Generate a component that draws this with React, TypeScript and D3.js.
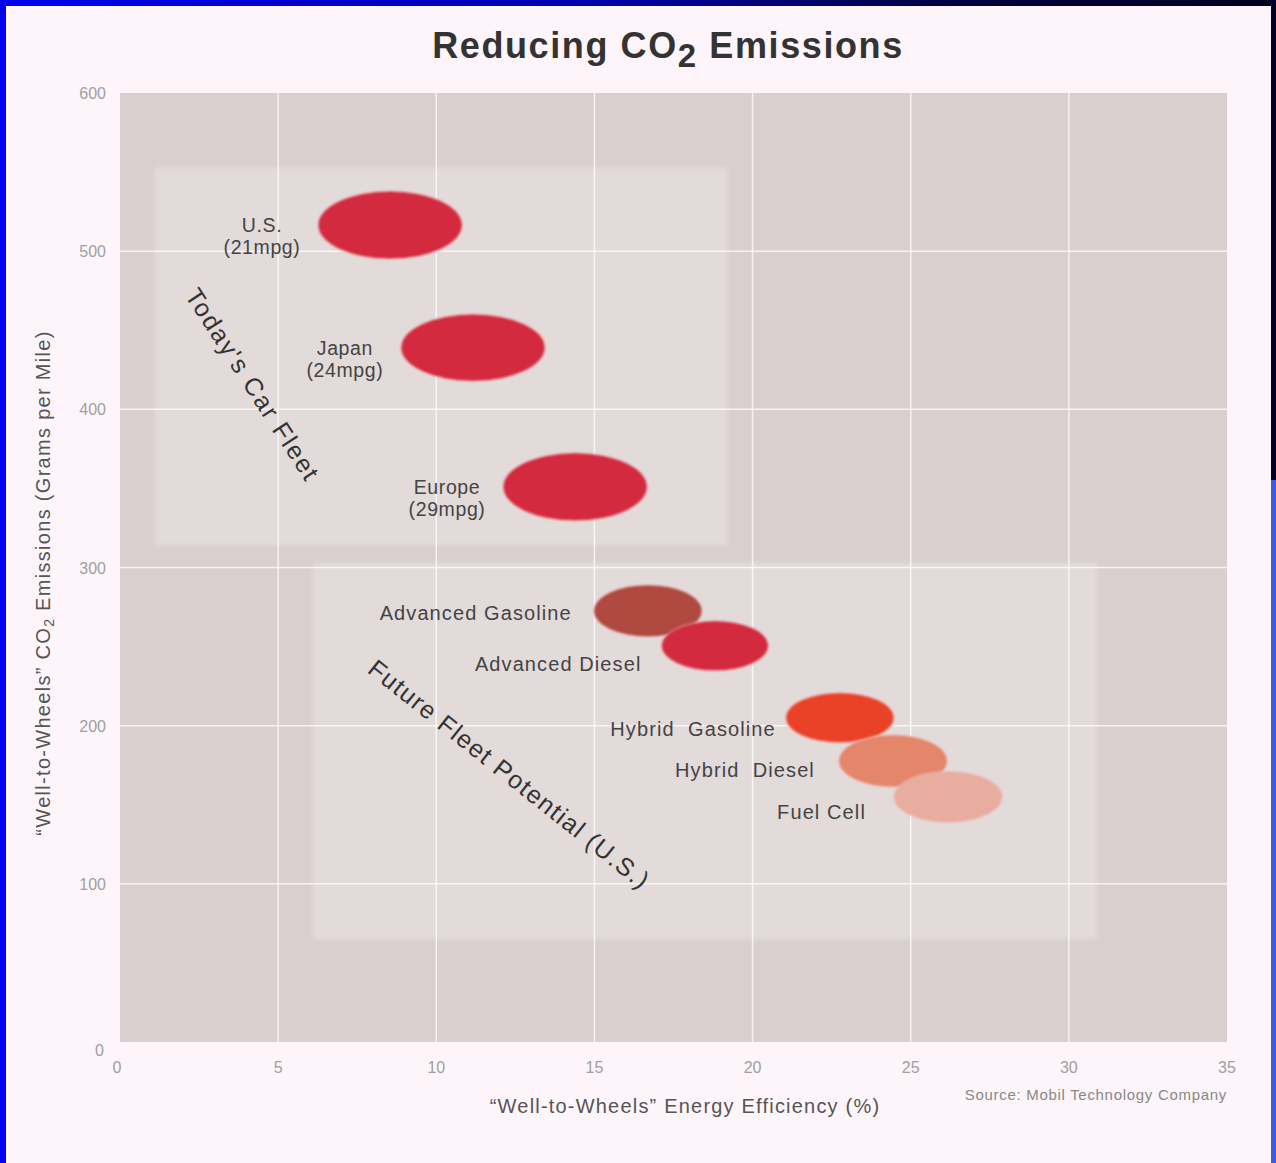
import React from "react";
import * as d3 from "d3";

// Vehicle groups plotted as ellipses: efficiency (%) vs CO2 (g/mile)
const categories = ["U.S.", "Japan", "Europe", "Advanced Gasoline", "Advanced Diesel", "Hybrid  Gasoline", "Hybrid  Diesel", "Fuel Cell"];
const subLabels = ["(21mpg)", "(24mpg)", "(29mpg)", "", "", "", "", ""];
const efficiency = [8.54, 11.16, 14.39, 16.69, 18.81, 22.76, 24.44, 26.18];
const emissions = [516.5, 439, 351, 272.6, 250.5, 205, 177.7, 155];
// half-width (efficiency %) and half-height (g/mile) of each ellipse
const spreadX = [2.28, 2.28, 2.28, 1.71, 1.69, 1.71, 1.71, 1.71];
const spreadY = [21.5, 21.2, 21.5, 16.4, 15.8, 15.8, 16.4, 16.1];
const colors = ["#d42a40", "#d42a40", "#d42a40", "#b0483f", "#d42a40", "#ea4328", "#e4866a", "#e8ad9f"];

const xTicks = [0, 5, 10, 15, 20, 25, 30, 35];
const yTicks = [0, 100, 200, 300, 400, 500, 600];

// Group boxes in data coordinates
const groupBoxes = [
  { name: "Today's Car Fleet", x: [1.1, 19.2], y: [314, 553] },
  { name: "Future Fleet Potential (U.S.)", x: [6.1, 30.9], y: [65, 303] },
];

const W = 1276;
const H = 1163;
const plot = { left: 120, right: 1227, top: 93, bottom: 1042 };

export default function App() {
  const x = d3.scaleLinear().domain([0, 35]).range([plot.left, plot.right]);
  const y = d3.scaleLinear().domain([0, 600]).range([plot.bottom, plot.top]);
  const font = "'Liberation Sans', Arial, Helvetica, sans-serif";

  // country groups: centred two-line label left of the ellipse;
  // future technologies: right-aligned single line left of the ellipse
  const labelFor = (i: number) => {
    const cx = x(efficiency[i]);
    const cy = y(emissions[i]);
    const rx = x(efficiency[i] + spreadX[i]) - cx;
    if (i < 3) {
      const lx = cx - rx - 56;
      return (
        <text key={"l" + i} x={lx} y={cy + 7} textAnchor="middle" fontSize={19.5} letterSpacing={0.6} fill="#444" fontFamily={font}>
          <tspan x={lx}>{categories[i]}</tspan>
          <tspan x={lx} dy={22}>{subLabels[i]}</tspan>
        </text>
      );
    }
    const offs = [0, 0, 0, 22, 20, 10, 24, 28];
    const dys = [0, 0, 0, 9, 25, 18, 16, 22];
    return (
      <text key={"l" + i} x={cx - rx - offs[i]} y={cy + dys[i]} textAnchor="end" fontSize={20} letterSpacing={1.1} fill="#444" fontFamily={font} style={{ whiteSpace: "pre" }}>
        {categories[i]}
      </text>
    );
  };

  return (
    <svg width={W} height={H} style={{ position: "absolute", left: 0, top: 0 }} xmlns="http://www.w3.org/2000/svg">
      <defs>
        <linearGradient id="topBar" x1="0" x2="1" y1="0" y2="0">
          <stop offset="0" stopColor="#0000f0" />
          <stop offset="0.45" stopColor="#0000b0" />
          <stop offset="0.75" stopColor="#000040" />
          <stop offset="1" stopColor="#000020" />
        </linearGradient>
        <filter id="soft" x="-10%" y="-10%" width="120%" height="120%">
          <feGaussianBlur stdDeviation="0.9" />
        </filter>
        <filter id="boxGlow" x="-5%" y="-5%" width="110%" height="110%">
          <feGaussianBlur stdDeviation="2" />
        </filter>
      </defs>

      {/* frame */}
      <rect x={0} y={0} width={W} height={H} fill="#0000f0" />
      <rect x={0} y={0} width={W} height={6} fill="url(#topBar)" />
      <rect x={1271} y={0} width={5} height={480} fill="#000028" />
      <rect x={1271} y={480} width={5} height={H - 480} fill="#3a5ae6" />
      <rect x={6} y={6} width={1265} height={H - 6} fill="#fdf5f9" />

      {/* title */}
      <text x={668} y={58} textAnchor="middle" fontSize={36} fontWeight="bold" letterSpacing={1.6} fill="#333" fontFamily={font}>
        Reducing CO<tspan dy={9} fontSize={33}>2</tspan><tspan dy={-9}> Emissions</tspan>
      </text>

      {/* plot background */}
      <rect x={plot.left} y={plot.top} width={plot.right - plot.left} height={plot.bottom - plot.top} fill="#d9cfcf" />

      {/* group boxes */}
      {groupBoxes.map((b, i) => (
        <rect
          key={"b" + i}
          x={x(b.x[0])}
          y={y(b.y[1])}
          width={x(b.x[1]) - x(b.x[0])}
          height={y(b.y[0]) - y(b.y[1])}
          fill="#e3dada"
          filter="url(#boxGlow)"
        />
      ))}

      {/* grid */}
      {xTicks.slice(1, -1).map((t) => (
        <line key={"gx" + t} x1={x(t)} x2={x(t)} y1={plot.top} y2={plot.bottom} stroke="#ffffff" strokeOpacity={0.75} strokeWidth={1.5} />
      ))}
      {yTicks.slice(1, -1).map((t) => (
        <line key={"gy" + t} x1={plot.left} x2={plot.right} y1={y(t)} y2={y(t)} stroke="#ffffff" strokeOpacity={0.75} strokeWidth={1.5} />
      ))}

      {/* tick labels */}
      {xTicks.map((t) => (
        <text key={"tx" + t} x={x(t) + (t === 0 ? -3 : 0)} y={1073} textAnchor="middle" fontSize={16} fill="#a0a0a0" fontFamily={font}>
          {t}
        </text>
      ))}
      {yTicks.map((t) => (
        <text key={"ty" + t} x={t === 0 ? 104 : 106} y={y(t) + 6 + (t === 0 ? 8 : 0)} textAnchor="end" fontSize={16} fill="#a0a0a0" fontFamily={font}>
          {t}
        </text>
      ))}

      {/* axis titles */}
      <text x={685} y={1113} textAnchor="middle" fontSize={20} letterSpacing={1.2} fill="#555" fontFamily={font}>
        “Well-to-Wheels” Energy Efficiency (%)
      </text>
      <text x={1227} y={1100} textAnchor="end" fontSize={15} letterSpacing={0.7} fill="#888" fontFamily={font}>
        Source: Mobil Technology Company
      </text>
      <text transform="translate(50,583) rotate(-90)" textAnchor="middle" fontSize={20} letterSpacing={1.3} fill="#555" fontFamily={font}>
        “Well-to-Wheels” CO<tspan dy={4} fontSize={14}>2</tspan><tspan dy={-4}> Emissions (Grams per Mile)</tspan>
      </text>

      {/* group annotations */}
      <text transform="translate(251,386) rotate(57)" textAnchor="middle" dominantBaseline="middle" fontSize={25} letterSpacing={1.8} fill="#333" fontFamily={font}>
        {groupBoxes[0].name}
      </text>
      <text transform="translate(508,776) rotate(38.5)" textAnchor="middle" dominantBaseline="middle" fontSize={25} letterSpacing={1.4} fill="#333" fontFamily={font}>
        {groupBoxes[1].name}
      </text>

      {/* ellipses */}
      {categories.map((c, i) => (
        <ellipse
          key={"e" + i}
          cx={x(efficiency[i])}
          cy={y(emissions[i])}
          rx={x(efficiency[i] + spreadX[i]) - x(efficiency[i])}
          ry={y(emissions[i]) - y(emissions[i] + spreadY[i])}
          fill={colors[i]}
          stroke="#f2b8b8"
          strokeOpacity={0.6}
          strokeWidth={1}
          filter="url(#soft)"
        />
      ))}

      {categories.map((c, i) => labelFor(i))}
    </svg>
  );
}
